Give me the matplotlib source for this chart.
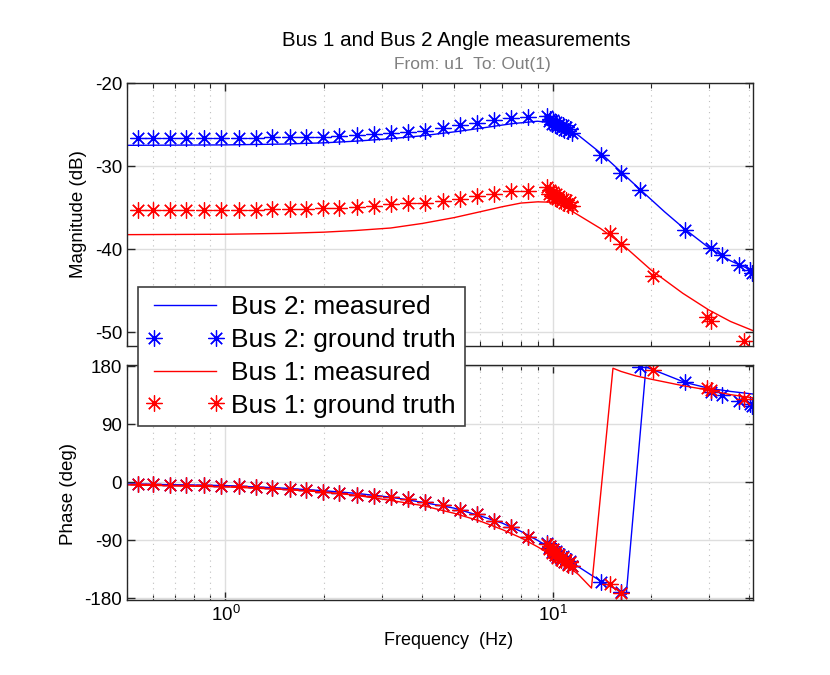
import numpy as np
import matplotlib
matplotlib.use("Agg")
import matplotlib.pyplot as plt
from matplotlib.ticker import LogLocator, FixedLocator, NullFormatter

plt.rcParams['font.family'] = ['Liberation Sans', 'DejaVu Sans']
plt.rcParams['mathtext.fontset'] = 'custom'
plt.rcParams['mathtext.rm'] = 'Liberation Sans'
plt.rcParams['mathtext.it'] = 'Liberation Sans'
plt.rcParams['axes.unicode_minus'] = False

# measured responses (line)
bus2_line_f = [0.5, 1.0, 1.5, 2.0, 2.5, 3.2, 4.0, 5.2, 6.0, 7.5, 9.0, 10.0,
               11.0, 12.0, 14.0, 16.0, 18.5, 22.0, 25.4, 30.0, 35.0, 41.0]
bus2_line_mag = [-27.5, -27.45, -27.35, -27.2, -27.0, -26.7, -26.35, -25.8, -25.45, -24.9, -24.6, -24.8,
                 -25.4, -26.3, -28.4, -30.5, -32.8, -35.5, -37.6, -39.8, -41.4, -42.6]

bus1_line_f = [0.5, 1.0, 1.5, 2.0, 2.5, 3.2, 4.0, 5.0, 6.0, 7.0, 8.0, 9.0, 10.0,
               11.0, 12.0, 14.0, 16.2, 20.0, 25.0, 30.0, 35.0, 41.0]
bus1_line_mag = [-38.25, -38.2, -38.1, -37.95, -37.75, -37.45, -36.9, -36.2, -35.5, -34.9, -34.45, -34.3, -34.35,
                 -35.0, -35.9, -37.5, -39.3, -42.5, -45.3, -47.3, -48.7, -49.8]

bus2_ph_f = [0.5, 1.0, 1.5, 2.0, 2.5, 3.2, 4.0, 5.0, 6.0, 7.0, 8.0, 9.0, 10.0, 11.0, 12.0,
             14.1, 16.2, 16.8, 19.3, 25.4, 30.0, 35.0, 41.0]
bus2_ph = [-2.5, -5, -9, -13, -17, -23, -31, -40, -52, -63, -76, -90, -104, -118, -131,
           -154, -170, -174, 179, 155, 146, 141, 137]

bus1_ph_f = [0.5, 1.0, 1.5, 2.0, 2.5, 3.2, 4.0, 5.0, 6.0, 7.0, 8.0, 9.0, 10.0, 11.0, 12.0,
             13.15, 15.3, 16.2, 18.0, 20.0, 25.0, 30.0, 35.0, 41.0]
bus1_ph = [-4, -7, -11, -15, -20, -28, -36, -48, -60, -73, -86, -100, -114, -128, -143,
           -164, 177, 172, 165, 160, 150, 143, 136, 131]

# ground truth (stars)
gt_f_low = [0.54, 0.60, 0.675, 0.76, 0.86, 0.97, 1.10, 1.24, 1.39, 1.57, 1.76, 1.98,
            2.23, 2.52, 2.84, 3.21, 3.62, 4.08, 4.62, 5.21, 5.89, 6.64, 7.48, 8.44]
gt_f_cluster = [9.6, 9.75, 9.85, 9.95, 10.05, 10.15, 10.25, 10.35, 10.5, 10.6, 10.75, 10.85,
                11.0, 11.15, 11.3, 11.45]
bus2_gt_f_high = [14.1, 16.2, 18.5, 25.4, 30.5, 32.9, 37.1, 40.2, 40.8]
bus1_gt_f_high = [14.98, 16.16, 20.27, 29.6, 30.5, 38.6]

bus2_gt_mag_low = [-26.65, -26.65, -26.65, -26.65, -26.65, -26.6, -26.6, -26.6, -26.55, -26.55, -26.5, -26.45,
                   -26.35, -26.25, -26.15, -26.05, -25.9, -25.75, -25.45, -25.1, -24.8, -24.5, -24.2, -24.15]
bus2_gt_mag_cluster = [-24.0, -24.6, -24.3, -24.9, -24.5, -25.0, -24.7, -25.2, -24.9, -25.4, -25.1, -25.6,
                       -25.3, -25.8, -25.5, -26.0]
bus2_gt_mag_high = [-28.66, -30.8, -32.9, -37.7, -39.85, -40.65, -41.86, -42.5, -42.9]

bus1_gt_mag_low = [-35.3, -35.3, -35.3, -35.3, -35.3, -35.3, -35.25, -35.25, -35.2, -35.2, -35.15, -35.1,
                   -35.0, -34.9, -34.75, -34.6, -34.5, -34.4, -34.2, -33.9, -33.6, -33.3, -33.05, -33.0]
bus1_gt_mag_cluster = [-32.5, -33.3, -32.9, -33.6, -33.1, -33.8, -33.4, -34.0, -33.6, -34.2, -33.9, -34.5,
                       -34.1, -34.7, -34.3, -34.8]
bus1_gt_mag_high = [-38.1, -39.4, -43.2, -48.2, -48.6, -51.1]

gt_ph_low = [-2.6, -3.0, -3.4, -3.8, -4.3, -5.0, -6.2, -7.5, -9.0, -10.8, -12.6, -14.7,
             -17.1, -19.2, -21.0, -23.5, -26.5, -31.0, -35.5, -42.6, -49.5, -59.5, -70.0, -84.5]
bus2_gt_ph_cluster = [-94, -102, -98, -108, -103, -112, -107, -116, -111, -119, -115, -123,
                      -119, -127, -122, -129]
bus1_gt_ph_cluster = [-96, -104, -99, -109, -104, -113, -108, -117, -112, -120, -116, -124,
                      -120, -128, -123, -130]
bus2_gt_ph_high = [-154.5, -170, 178.8, 155.5, 140, 134.7, 125.4, 121, 118]
bus1_gt_ph_high = [-158, -172, 173.6, 147, 143, 130]

bus2_gt_f = gt_f_low + gt_f_cluster + bus2_gt_f_high
bus1_gt_f = gt_f_low + gt_f_cluster + bus1_gt_f_high
bus2_gt_mag = bus2_gt_mag_low + bus2_gt_mag_cluster + bus2_gt_mag_high
bus1_gt_mag = bus1_gt_mag_low + bus1_gt_mag_cluster + bus1_gt_mag_high
bus2_gt_ph = gt_ph_low + bus2_gt_ph_cluster + bus2_gt_ph_high
bus1_gt_ph = gt_ph_low + bus1_gt_ph_cluster + bus1_gt_ph_high

blue = (0, 0, 1)
red = (1, 0, 0)
star = (8, 2, 0)
ms = 11.5
mew = 0.9
lw = 1.0

fig = plt.figure(figsize=(8.3, 6.75), dpi=100)
ax1 = fig.add_axes([127/830, 1-346/675, 626/830, 263/675])
ax2 = fig.add_axes([127/830, 1-600/675, 626/830, 235/675])

ax1.plot(bus2_line_f, bus2_line_mag, '-', color=blue, lw=lw, label='Bus 2: measured')
ax1.plot(bus2_gt_f, bus2_gt_mag, ls='none', marker=star, ms=ms, mew=mew, color=blue, label='Bus 2: ground truth')
ax1.plot(bus1_line_f, bus1_line_mag, '-', color=red, lw=lw, label='Bus 1: measured')
ax1.plot(bus1_gt_f, bus1_gt_mag, ls='none', marker=star, ms=ms, mew=mew, color=red, label='Bus 1: ground truth')

ax2.plot(bus2_ph_f, bus2_ph, '-', color=blue, lw=lw)
ax2.plot(bus2_gt_f, bus2_gt_ph, ls='none', marker=star, ms=ms, mew=mew, color=blue)
ax2.plot(bus1_ph_f, bus1_ph, '-', color=red, lw=lw)
ax2.plot(bus1_gt_f, bus1_gt_ph, ls='none', marker=star, ms=ms, mew=mew, color=red)

for ax in (ax1, ax2):
    ax.set_xscale('log')
    ax.set_xlim(0.5, 41)
    ax.xaxis.set_major_locator(LogLocator(base=10))
    ax.xaxis.set_minor_locator(LogLocator(base=10, subs=np.arange(2, 10)))
    ax.xaxis.set_minor_formatter(NullFormatter())
    ax.tick_params(which='both', direction='in', top=True, right=True, colors='0.15',
                   labelsize=13.5, labelcolor='black')
    ax.tick_params(which='major', length=6, width=1.0)
    ax.tick_params(which='minor', length=3.5, width=0.8)
    ax.grid(True, which='major', color='0.87', lw=1.0, ls='-')
    ax.grid(True, which='minor', axis='x', color='0.75', lw=0.8, ls=(0, (1, 4)))
    ax.set_axisbelow(True)
    for s in ax.spines.values():
        s.set_color('0.15')
        s.set_linewidth(1.0)

ax1.set_ylim(-51.65, -20)
ax1.yaxis.set_major_locator(FixedLocator([-50, -40, -30, -20]))
ax1.tick_params(labelbottom=False)
ax1.set_ylabel('Magnitude (dB)', fontsize=13.5)
ax1.yaxis.set_label_coords(-0.064, 0.5)

ax2.set_ylim(-182.5, 182)
ax2.yaxis.set_major_locator(FixedLocator([-180, -90, 0, 90, 180]))
ax2.set_ylabel('Phase (deg)', fontsize=13.5)
ax2.yaxis.set_label_coords(-0.08, 0.45)
ax2.set_xlabel('Frequency  (Hz)', fontsize=13)
ax2.xaxis.set_label_coords(0.513, -0.135)

fig.text(456/830, 1-40/675, 'Bus 1 and Bus 2 Angle measurements', ha='center', va='center', fontsize=14.8)
fig.text(472/830, 1-65/675, 'From: u1  To: Out(1)', ha='center', va='center', fontsize=12.5, color='0.5')

h, l = ax1.get_legend_handles_labels()
leg = fig.legend(h, l, loc='upper left', bbox_to_anchor=(137.7/830, 1-286.7/675),
                 borderaxespad=0, fontsize=19, numpoints=2, handlelength=2.95,
                 handletextpad=0.27, labelspacing=0.33, borderpad=0.33,
                 fancybox=False, framealpha=1, edgecolor='0.25')
leg.get_frame().set_linewidth(1.2)

fig.savefig('out.png', dpi=100)
